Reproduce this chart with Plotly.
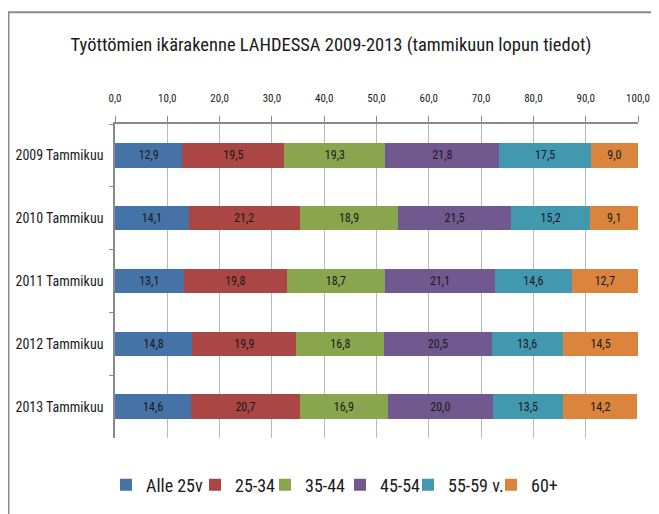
import plotly.graph_objects as go

categories = ["2009 Tammikuu", "2010 Tammikuu", "2011 Tammikuu", "2012 Tammikuu", "2013 Tammikuu"]
series_names = ["Alle 25v", "25-34", "35-44", "45-54", "55-59 v.", "60+"]
alle25 = [12.9, 14.1, 13.1, 14.8, 14.6]
age25_34 = [19.5, 21.2, 19.8, 19.9, 20.7]
age35_44 = [19.3, 18.9, 18.7, 16.8, 16.9]
age45_54 = [21.8, 21.5, 21.1, 20.5, 20.0]
age55_59 = [17.5, 15.2, 14.6, 13.6, 13.5]
age60 = [9.0, 9.1, 12.7, 14.5, 14.2]
tick_vals = [0, 10, 20, 30, 40, 50, 60, 70, 80, 90, 100]

series_values = [alle25, age25_34, age35_44, age45_54, age55_59, age60]
colors = ["#4572A7", "#AA4643", "#89A54E", "#71588F", "#4198AF", "#DB843D"]

FONT = "Roboto Condensed, DejaVu Sans Condensed, sans-serif"

# figure geometry (page is offset by the 8px body margin)
W, H = 651, 506
PL, PR, PT, PB = 107, 630, 116, 431
PW, PH = PR - PL, PB - PT

def px_x(x):
    return (x - PL) / PW

def px_y(y):
    return (PB - y) / PH

legend_keys = ["legend", "legend2", "legend3", "legend4", "legend5", "legend6"]
legend_left_px = [98, 187, 257, 332, 400, 483]

fig = go.Figure()
for name, vals, col, lk in zip(series_names, series_values, colors, legend_keys):
    fig.add_trace(go.Bar(
        y=categories, x=vals, name=name, orientation="h",
        marker=dict(color=col, line=dict(width=0)),
        text=[f"{v:.1f}".replace(".", ",") for v in vals],
        textposition="inside", insidetextanchor="middle",
        textfont=dict(family=FONT, size=12, color="#1a1a1a"),
        hoverinfo="skip", legend=lk, showlegend=True,
    ))

layout_legends = {}
for lk, lx in zip(legend_keys, legend_left_px):
    layout_legends[lk] = dict(
        orientation="h", x=px_x(lx), xanchor="left", y=px_y(477), yanchor="middle",
        font=dict(family=FONT, size=18, color="#1a1a1a"),
        itemwidth=30, bgcolor="rgba(0,0,0,0)", borderwidth=0,
    )

fig.update_layout(
    width=W, height=H,
    barmode="stack", bargap=0.61,
    paper_bgcolor="white", plot_bgcolor="white",
    margin=dict(l=PL, r=W - PR, t=PT, b=H - PB),
    font=dict(family=FONT, color="#1a1a1a"),
    title=dict(text="Työttömien ikärakenne LAHDESSA 2009-2013 (tammikuun lopun tiedot)",
               x=323 / W, xanchor="center", xref="container",
               y=1 - 37 / H, yanchor="middle", yref="container",
               font=dict(family=FONT, size=18.5, color="#1a1a1a")),
    uniformtext=dict(mode="show", minsize=12),
    showlegend=True,
    **layout_legends,
)
fig.update_xaxes(
    side="top", range=[0, 100], tickvals=tick_vals,
    ticktext=[f"{v:.1f}".replace(".", ",") for v in tick_vals],
    showgrid=True, gridcolor="#b8b8b8", gridwidth=1,
    showline=True, linecolor="#8a8a8a", linewidth=2,
    ticks="outside", ticklen=6, tickcolor="#8a8a8a",
    tickfont=dict(family=FONT, size=11, color="#1a1a1a"),
    ticklabelstandoff=10, zeroline=False, automargin=False,
)
fig.update_yaxes(
    autorange="reversed", showline=True, linecolor="#8a8a8a", linewidth=1.5,
    ticks="outside", ticklen=4, tickcolor="#8a8a8a", tickson="boundaries",
    tickfont=dict(family=FONT, size=14, color="#1a1a1a"),
    ticklabelstandoff=7, showgrid=False, automargin=False,
)
# outer chart frame (top and left edges visible)
fig.add_shape(type="line", xref="paper", yref="paper",
              x0=px_x(0), x1=px_x(W + 10), y0=px_y(4), y1=px_y(4),
              line=dict(color="#8a8a8a", width=2))
fig.add_shape(type="line", xref="paper", yref="paper",
              x0=px_x(0.75), x1=px_x(0.75), y0=px_y(4), y1=px_y(H + 10),
              line=dict(color="#8a8a8a", width=1.5))

fig.write_html("out.html")
